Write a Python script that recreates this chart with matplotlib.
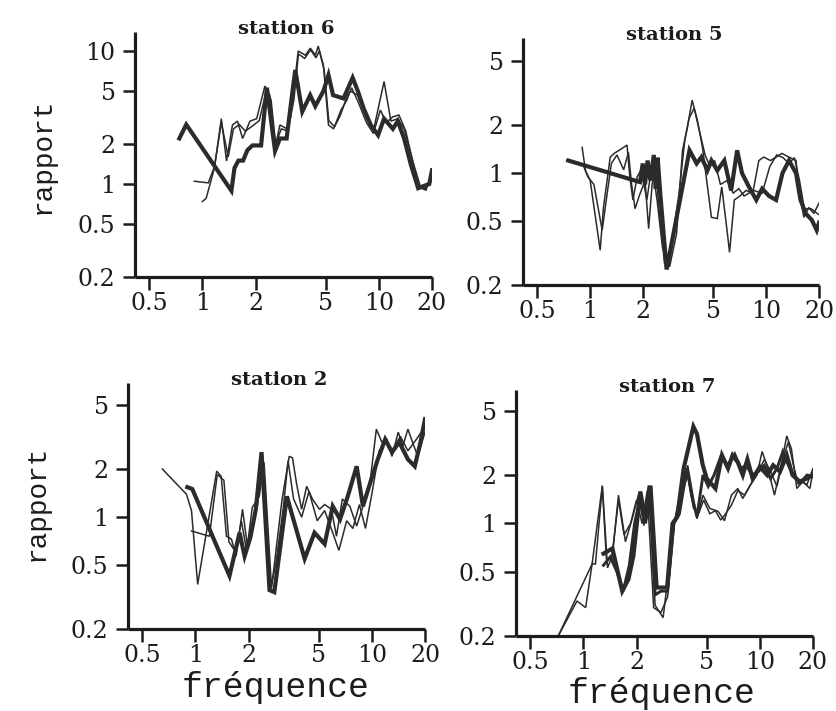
import matplotlib
matplotlib.use("Agg")
import matplotlib.pyplot as plt
from matplotlib.ticker import FixedLocator, FixedFormatter, NullLocator

# ---------------------------------------------------------------- data
x_ticks = [0.5, 1, 2, 5, 10, 20]
x_tick_labels = ["0.5", "1", "2", "5", "10", "20"]
y_ticks_s6 = [0.2, 0.5, 1, 2, 5, 10]
y_tick_labels_s6 = ["0.2", "0.5", "1", "2", "5", "10"]
y_ticks = [0.2, 0.5, 1, 2, 5]
y_tick_labels = ["0.2", "0.5", "1", "2", "5"]

# station 6
s6_thick_f = [0.74, 0.81, 1.46, 1.52, 1.60, 1.70, 1.80, 1.92, 2.15, 2.32, 2.45, 2.58, 2.75, 3.0,
              3.27, 3.36, 3.68, 4.08, 4.36, 4.85, 5.18, 5.5, 6.3, 7.1, 7.6, 8.2, 9.0, 9.9, 10.7,
              12.0, 12.8, 13.9, 15.2, 16.7, 18.1, 19.3, 20.0]
s6_thick_r = [2.2, 2.8, 0.89, 1.32, 1.5, 1.5, 1.8, 1.95, 1.95, 5.3, 3.0, 1.77, 2.2, 2.2,
              5.5, 7.2, 3.5, 4.66, 3.85, 5.0, 6.6, 4.66, 4.4, 6.3, 5.0, 3.7, 2.78, 2.33, 3.1,
              2.6, 2.97, 2.2, 1.39, 0.93, 0.97, 1.0, 1.27]
s6_thin_a_f = [1.00, 1.05, 1.17, 1.28, 1.37, 1.48, 1.58, 1.69, 1.86, 2.03, 2.26, 2.41, 2.58, 2.75,
               3.02, 3.27, 3.49, 3.83, 4.09, 4.37, 4.53, 4.85, 5.18, 5.53, 6.06, 6.64, 6.9, 7.58,
               8.66, 9.36, 10.7, 11.7, 12.8, 13.9, 15.8, 17.3, 18.5, 20.0]
s6_thin_a_r = [0.74, 0.78, 1.32, 3.1, 1.49, 2.78, 2.97, 2.2, 2.97, 3.1, 5.45, 4.66, 1.87, 2.78,
               2.6, 4.66, 10.0, 9.3, 10.5, 9.3, 10.9, 7.8, 2.78, 2.6, 3.3, 4.66, 5.0, 4.66,
               2.97, 2.6, 5.9, 2.97, 3.1, 2.6, 1.39, 0.93, 0.9, 1.2]
s6_thin_b_f = [0.90, 1.08, 1.17, 1.28, 1.40, 1.50, 1.62, 1.75, 1.90, 2.10, 2.30, 2.45, 2.60, 2.80,
               3.05, 3.30, 3.50, 3.80, 4.10, 4.40, 4.60, 4.90, 5.20, 5.60, 6.10, 6.60, 7.00, 7.60,
               8.50, 9.30, 10.2, 11.0, 12.0, 13.0, 14.2, 15.5, 16.8, 18.3, 20.0]
s6_thin_b_r = [1.05, 1.02, 1.35, 2.9, 1.6, 2.6, 2.8, 2.5, 2.7, 3.0, 5.0, 4.3, 2.0, 2.6,
               2.5, 4.3, 9.5, 8.8, 10.2, 8.9, 10.0, 7.2, 3.0, 2.7, 3.6, 4.3, 5.3, 4.2,
               2.9, 2.4, 3.6, 2.9, 3.2, 3.3, 2.5, 1.5, 0.95, 0.92, 1.15]

# station 5
s5_thick_f = [0.75, 1.92, 1.99, 2.05, 2.12, 2.20, 2.30, 2.36, 2.42, 2.50, 2.72, 3.67, 4.03, 4.29,
              4.64, 4.89, 5.28, 5.79, 6.33, 6.85, 7.3, 8.0, 8.8, 9.5, 10.4, 11.4, 12.4, 13.5,
              14.8, 15.7, 16.8, 18.2, 19.4, 20.0]
s5_thick_r = [1.2, 0.88, 1.15, 0.85, 1.2, 0.9, 1.3, 0.8, 1.25, 0.76, 0.25, 1.39, 1.15, 1.26,
              1.04, 1.2, 1.04, 1.2, 0.78, 1.39, 1.0, 0.82, 0.68, 0.8, 0.72, 0.68, 1.0, 1.2,
              1.0, 0.68, 0.56, 0.51, 0.44, 0.49]
s5_thin_a_f = [0.90, 0.94, 1.00, 1.14, 1.19, 1.30, 1.37, 1.52, 1.62, 1.68, 1.75, 1.85, 1.95, 2.10,
               2.18, 2.27, 2.40, 2.58, 2.83, 3.10, 3.35, 3.57, 3.80, 4.07, 4.35, 4.89, 5.28, 5.60,
               6.00, 6.20, 6.60, 7.10, 7.70, 8.4, 9.1, 9.7, 10.6, 11.4, 12.3, 13.5, 14.8, 15.3,
               16.4, 17.5, 18.7, 20.0]
s5_thin_a_r = [1.45, 1.04, 0.9, 0.33, 0.61, 1.26, 1.33, 1.43, 1.5, 0.95, 0.68, 0.95, 1.05, 0.68,
               0.9, 1.04, 0.68, 0.34, 0.26, 0.42, 1.39, 1.94, 2.86, 2.14, 1.45, 0.53, 0.52, 0.82,
               0.44, 0.32, 0.68, 0.72, 0.78, 0.75, 1.2, 1.26, 1.2, 1.26, 1.33, 1.26, 1.2, 0.82,
               0.53, 0.61, 0.56, 0.65]
s5_thin_b_f = [0.92, 0.97, 1.05, 1.17, 1.25, 1.32, 1.42, 1.55, 1.65, 1.72, 1.80, 1.90, 2.05, 2.15,
               2.25, 2.35, 2.50, 2.65, 2.90, 3.20, 3.45, 3.65, 3.90, 4.15, 4.50, 4.80, 5.10, 5.50,
               6.00, 6.50, 7.00, 7.50, 8.50, 9.50, 10.5, 11.5, 12.5, 13.5, 14.5, 15.5, 16.5, 18.0,
               20.0]
s5_thin_b_r = [1.1, 0.95, 0.85, 0.44, 0.75, 1.15, 1.3, 1.05, 1.35, 0.85, 0.6, 0.72, 0.9, 0.45,
               0.85, 1.1, 0.5, 0.27, 0.35, 0.75, 1.6, 2.2, 2.55, 1.9, 1.3, 1.1, 1.2, 0.85,
               0.9, 0.75, 0.8, 0.72, 0.78, 0.75, 1.1, 1.3, 1.25, 1.15, 1.25, 0.9, 0.6, 0.6,
               0.55]

# station 2
s2_thick_f = [0.90, 0.96, 1.56, 1.78, 1.90, 2.05, 2.20, 2.37, 2.63, 2.80, 3.30, 3.50, 4.16, 4.73,
              5.40, 6.00, 6.60, 7.30, 8.20, 8.90, 9.80, 10.8, 11.9, 13.0, 14.3, 16.0, 17.5, 18.8,
              20.0]
s2_thick_r = [1.54, 1.5, 0.43, 0.8, 0.57, 0.75, 1.12, 2.55, 0.35, 0.34, 1.35, 1.07, 0.55, 0.8,
              0.68, 1.17, 0.97, 1.35, 2.08, 1.17, 1.65, 2.3, 3.07, 2.55, 2.94, 2.3, 2.08, 2.9,
              4.1]
s2_thin_a_f = [0.65, 0.89, 0.95, 1.03, 1.32, 1.40, 1.50, 1.60, 1.70, 1.85, 1.97, 2.10, 2.30, 2.45,
               2.70, 3.10, 3.40, 3.55, 3.75, 4.00, 4.27, 4.60, 5.05, 5.40, 5.90, 6.30, 6.80, 7.50,
               8.20, 8.90, 9.70, 10.6, 11.4, 12.1, 13.0, 14.1, 15.0, 16.0, 17.0, 18.2, 20.0]
s2_thin_a_r = [2.0, 1.39, 1.1, 0.38, 1.94, 1.8, 0.76, 0.73, 0.57, 1.12, 0.66, 1.15, 1.35, 2.2,
               0.36, 1.3, 2.4, 2.35, 1.6, 1.12, 1.56, 1.3, 1.12, 1.2, 1.12, 0.76, 1.3, 1.17,
               0.88, 1.17, 1.56, 3.55, 2.94, 3.1, 2.4, 3.4, 2.8, 3.55, 2.94, 2.4, 3.4]
s2_thin_b_f = [0.95, 1.20, 1.33, 1.45, 1.55, 1.70, 1.82, 1.95, 2.10, 2.25, 2.40, 2.65, 2.85, 3.15,
               3.35, 3.60, 4.00, 4.40, 4.90, 5.40, 6.00, 6.50, 7.20, 7.80, 8.50, 9.20, 10.0, 11.0,
               12.0, 13.0, 14.5, 16.0, 18.0, 20.0]
s2_thin_b_r = [0.82, 0.76, 1.85, 1.7, 0.7, 0.6, 0.95, 0.62, 0.9, 1.2, 2.3, 0.35, 0.5, 1.15,
               2.25, 1.3, 1.0, 1.45, 0.95, 1.1, 0.8, 0.62, 0.95, 0.85, 1.2, 0.85, 1.4, 2.6,
               2.95, 2.6, 3.2, 2.6, 3.1, 3.7]

# station 7
s7_thick_f = [1.30, 1.46, 1.66, 1.80, 1.92, 2.10, 2.24, 2.40, 2.60, 2.98, 3.20, 3.40, 3.70, 4.20,
              4.40, 4.75, 5.00, 5.60, 6.10, 6.60, 7.00, 7.50, 8.00, 8.50, 9.10, 10.0, 11.0, 11.9,
              13.0, 14.2, 15.3, 16.8, 18.4, 20.0]
s7_thick_r = [0.65, 0.7, 0.38, 0.45, 0.63, 1.58, 1.07, 1.72, 0.4, 0.4, 1.0, 1.1, 2.2, 4.0,
              3.6, 2.3, 1.9, 1.65, 2.65, 2.2, 2.65, 2.4, 2.0, 2.5, 1.9, 2.25, 2.0, 2.3,
              2.1, 2.65, 2.0, 1.82, 1.9, 2.0]
s7_mid_f = [1.30, 1.42, 1.55, 1.68, 1.82, 1.95, 2.10, 2.25, 2.40, 2.55, 2.75, 3.00, 3.25, 3.50,
            3.86, 4.10, 4.40, 4.76, 5.10, 5.50, 6.00, 6.60, 7.20, 7.80, 8.40, 9.00, 9.80, 10.6,
            11.5, 12.5, 13.5, 14.5, 15.5, 17.0, 18.5, 20.0]
s7_mid_r = [0.55, 0.62, 0.5, 0.38, 0.55, 1.0, 1.45, 1.0, 1.6, 0.36, 0.38, 0.38, 1.0, 1.15,
            2.2, 1.5, 1.1, 2.0, 1.7, 2.0, 2.6, 2.3, 2.7, 2.2, 2.3, 2.0, 2.1, 2.3,
            1.9, 2.2, 2.8, 2.3, 2.0, 1.8, 2.0, 1.95]
s7_thin_a_f = [0.72, 0.92, 1.03, 1.12, 1.28, 1.37, 1.46, 1.58, 1.73, 1.89, 2.05, 2.20, 2.33, 2.55,
               2.83, 3.30, 3.60, 3.90, 4.40, 4.76, 5.20, 5.80, 6.30, 6.90, 7.50, 8.00, 8.80, 9.60,
               10.3, 11.1, 12.1, 13.3, 14.2, 15.1, 16.2, 17.5, 19.2, 20.0]
s7_thin_a_r = [0.2, 0.33, 0.30, 0.56, 1.72, 0.53, 0.63, 1.5, 0.77, 1.07, 1.5, 0.97, 1.72, 0.31,
               0.26, 1.07, 1.65, 2.3, 1.07, 1.5, 1.24, 1.19, 1.04, 1.5, 1.65, 1.43, 1.72, 1.99,
               2.8, 2.2, 1.5, 2.4, 3.5, 2.9, 1.65, 1.82, 1.65, 2.1]
s7_thin_b_f = [0.72, 1.12, 1.17, 1.28, 1.35, 1.45, 1.58, 1.70, 1.85, 2.00, 2.15, 2.30, 2.50, 2.75,
               3.00, 3.30, 3.60, 3.90, 4.20, 4.50, 4.80, 5.20, 5.60, 6.00, 6.40, 6.90, 7.50, 8.20,
               9.00, 9.80, 10.6, 11.5, 12.5, 13.6, 14.5, 15.5, 16.5, 17.5, 18.5, 20.0]
s7_thin_b_r = [0.2, 0.56, 0.56, 1.7, 0.6, 0.62, 1.4, 0.85, 1.0, 1.4, 1.0, 1.6, 0.3, 0.28,
               0.35, 1.05, 1.5, 2.0, 1.25, 1.15, 1.4, 1.15, 1.2, 1.05, 1.15, 1.3, 1.6, 1.5,
               1.8, 2.1, 2.5, 2.1, 1.7, 2.6, 3.2, 2.3, 1.75, 1.8, 1.75, 2.2]

# ---------------------------------------------------------------- figure
W, H = 836, 711
fig = plt.figure(figsize=(W / 100, H / 100), dpi=100)
fig.patch.set_facecolor("white")

SERIF = "DejaVu Serif"
MONO = "Liberation Mono"
INK = "#1c1c1c"
LINE = "#2b2b2b"


def box(left, right, top, bottom):
    return [left / W, 1 - bottom / H, (right - left) / W, (bottom - top) / H]


def panel(rect, title, ytop, yt, ytl, curves):
    ax = fig.add_axes(rect)
    ax.set_xscale("log")
    ax.set_yscale("log")
    ax.set_xlim(0.415, 20)
    ax.set_ylim(0.2, ytop)
    for f, r, lw in curves:
        ax.plot(f, r, color=LINE, lw=lw, solid_joinstyle="miter", clip_on=True)
    for side in ("top", "right"):
        ax.spines[side].set_visible(False)
    for side in ("left", "bottom"):
        ax.spines[side].set_linewidth(2.3)
        ax.spines[side].set_color(INK)
        ax.spines[side].set_capstyle("butt")
    ax.xaxis.set_major_locator(FixedLocator(x_ticks))
    ax.xaxis.set_major_formatter(FixedFormatter(x_tick_labels))
    ax.yaxis.set_major_locator(FixedLocator(yt))
    ax.yaxis.set_major_formatter(FixedFormatter(ytl))
    ax.xaxis.set_minor_locator(NullLocator())
    ax.yaxis.set_minor_locator(NullLocator())
    ax.tick_params(axis="both", direction="out", length=9, width=1.8, color=INK,
                   labelsize=17, labelcolor=INK)
    ax.tick_params(axis="x", pad=2)
    ax.tick_params(axis="y", pad=5)
    for lab in ax.get_xticklabels() + ax.get_yticklabels():
        lab.set_family(SERIF)
    ax.text(0.51, 1.0 - 2 / 245, title, transform=ax.transAxes, ha="center",
            va="baseline", fontsize=14, fontweight="bold", family=SERIF, color=INK)
    ax.set_facecolor("none")
    return ax


THICK, MID, THIN = 3.0, 2.1, 1.1

panel(box(135, 432, 32, 277), "station 6", 13.9, y_ticks_s6, y_tick_labels_s6,
      [(s6_thin_a_f, s6_thin_a_r, THIN), (s6_thin_b_f, s6_thin_b_r, THIN),
       (s6_thick_f, s6_thick_r, THICK)])
panel(box(523, 819, 38, 285), "station 5", 7.0, y_ticks, y_tick_labels,
      [(s5_thin_a_f, s5_thin_a_r, THIN), (s5_thin_b_f, s5_thin_b_r, THIN),
       (s5_thick_f, s5_thick_r, THICK)])
panel(box(128, 425, 383, 629), "station 2", 6.9, y_ticks, y_tick_labels,
      [(s2_thin_a_f, s2_thin_a_r, THIN), (s2_thin_b_f, s2_thin_b_r, THIN),
       (s2_thick_f, s2_thick_r, THICK)])
panel(box(516, 813, 390, 636), "station 7", 6.75, y_ticks, y_tick_labels,
      [(s7_thin_a_f, s7_thin_a_r, THIN), (s7_thin_b_f, s7_thin_b_r, THIN),
       (s7_mid_f, s7_mid_r, MID), (s7_thick_f, s7_thick_r, THICK)])

# shared axis titles
for (x, y) in [(43, 156), (37, 503)]:
    fig.text(x / W, 1 - y / H, "rapport", rotation=90, ha="center", va="center",
             family=MONO, fontsize=20, color=INK)
for (x, y) in [(276, 688), (662, 693)]:
    fig.text(x / W, 1 - y / H, "fréquence", ha="center", va="center",
             family=MONO, fontsize=25, color=INK)

fig.savefig("out.png", dpi=100, facecolor="white")
